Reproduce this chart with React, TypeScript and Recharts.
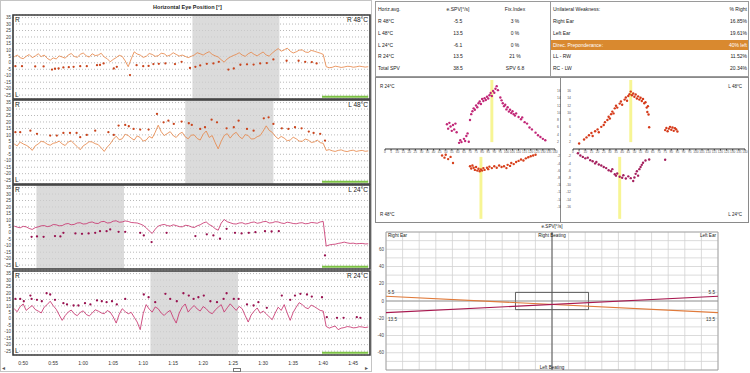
import {
  CartesianGrid,
  ComposedChart,
  Label,
  LabelList,
  Line,
  LineChart,
  ReferenceArea,
  ReferenceLine,
  Scatter,
  ScatterChart,
  XAxis,
  YAxis,
} from "recharts";

const FONT = "'Liberation Sans', Arial, sans-serif";

// ---------- eye position traces (seconds / degrees) ----------
const traceTimes = [
  48.5, 49, 49.5, 50, 50.5, 51, 51.5, 52, 52.5, 53, 53.5, 54, 54.5, 55, 55.5, 56, 56.5, 57, 57.5, 58,
  58.5, 59, 59.5, 60, 60.5, 61, 61.5, 62, 62.5, 63, 63.5, 64, 64.5, 65, 65.5, 66, 66.5, 67, 67.5, 68,
  68.5, 69, 69.5, 70, 70.5, 71, 71.5, 72, 72.5, 73, 73.5, 74, 74.5, 75, 75.5, 76, 76.5, 77, 77.5, 78,
  78.5, 79, 79.5, 80, 80.5, 81, 81.5, 82, 82.5, 83, 83.5, 84, 84.5, 85, 85.5, 86, 86.5, 87, 87.5, 88,
  88.5, 89, 89.5, 90, 90.5, 91, 91.5, 92, 92.5, 93, 93.5, 94, 94.5, 95, 95.5, 96, 96.5, 97, 97.5, 98,
  98.5, 99, 99.5, 100, 100.5, 101, 101.5, 102, 102.5, 103, 103.5, 104, 104.5, 105, 105.5, 106, 106.5,
  107, 107.5,
];
const timeTicks = [50, 55, 60, 65, 70, 75, 80, 85, 90, 95, 100, 105];
const eyeTicks = [-25, -20, -15, -10, -5, 0, 5, 10, 15, 20, 25, 30, 35];

const r48Trace = [
  4.6, 6, 4, 3.2, 5, 6.4, 4, 5.2, 7, 4.8, 6, 3.5, 2, 3.8, 3, 5.3, 4.5, 3.6, 6, 7.2,
  5, 4.2, 6.5, 7.6, 5.5, 4.4, 7, 5.6, 6, 7.4, 4.5, 3.2, 0.8, 2.6, 4, 5.8, 5, 1.5, -3, 3,
  8.5, 6.8, 6, 4.2, 5, 7.2, 6.5, 5, 5.5, 7.4, 7, 5.2, 6, 7.8, 6.5, 5.2, 6, 5, 4, 5,
  6, 7.8, 7, 6, 7.5, 8.6, 6.5, 5.4, 4.5, 2.4, 0.5, 3, 4.5, 5.6, 6.5, 7.8, 6, 5, 7, 8.2,
  6.5, 5.4, 7, 8.4, 6, 5.2, 7.5, 9.4, 11, 9, 10, 11.4, 9, 7.6, 8.5, 9.8, 10, 8.4, 8, 9.6,
  9, 8.2, 7.5, 6.5, -3, -3.8, -3.5, -2.6, -3, -3.6, -3.2, -2.7, -2.8, -3.4, -3.1, -2.6, -2.9,
  -3.3, -3,
];
const l48Trace = [
  3, 1.5, 4.5, 3, 2, 0.5, -2, 1.5, 3, 5, 4.5, 2.8, 2, 3.5, 4, 5.2, 3, 1.8, 4.5, 5.5,
  3, 1, -1.5, 1.5, 3, 4.8, 4.5, 3.2, 2.5, 0, -2.8, 0.5, 3, 6.5, 9, 6.2, 7, 10.5, 9.5, 7.5,
  6, 9.2, 8, 5.2, 6, 8.8, 7.5, 12, 17.5, 12.5, 9.5, 11, 12.5, 9.5, 8, 10.8, 12, 8.5, 7, 9.8,
  10, 7.2, 6, 10.5, 13, 8, 9.5, 4, -0.8, 5, 9.5, 11, 7.5, 10.5, 12, 8.8, 7, 10.2, 9.5, 6.8,
  7, 8.6, 9.5, 13, 17, 13.5, 12, 9, 7, 8.8, 7.5, 5.5, 6, 8.2, 7, 5.2, 5, 6.8, 6, 4.2,
  4.5, 6, 4, 3.5, -2, -1.4, -2.3, -2.8, -2, -1.6, -2.5, -2.9, -2.2, -1.8, -2.8, -2.3, -2,
  -2.7, -2.4,
];
const l24Trace = [
  5.2, 4.4, 3.9, 5, 4.6, 3.4, 2.6, 4, 4.6, 5.4, 5.6, 4.8, 5.2, 6.4, 6.2, 5.4, 5.6, 6.8, 7.2, 6.2,
  6.5, 7.6, 7.8, 6.8, 7, 8, 8.4, 7.4, 7.2, 8.6, 8.8, 7.6, 7.8, 9, 9.3, 8.2, 8.4, 9.2, 8.8, 8,
  7.8, 7.6, 6.8, 5.8, 3.9, 1.5, -0.5, 2.8, 5.2, 6, 6.5, 5.6, 5.2, 6.2, 5.6, 4.8, 4.6, 5.8, 5.6, 4.6,
  4.1, 5.4, 6.2, 7.6, 8.4, 6.4, 5.2, 3.2, 2, 7.5, 10.3, 8.6, 7.8, 7, 6.8, 7.6, 7.8, 6.8, 7.2, 8,
  8.4, 7.4, 7.8, 8.6, 8.8, 7.6, 7.8, 8.6, 8.4, 7.6, 7.2, 8.2, 7.8, 7.2, 7, 7.6, 7.8, 7, 7.2, 8,
  7.8, 7.4, 8.4, 8.8, -10.3, -9.4, -9, -8.8, -8.2, -7.8, -7.2, -7.8, -8.2, -8, -8.5, -8.3, -8.2,
  -8.6, -8.5,
];
const r24Trace = [
  7.8, 5.5, 9.5, 11.5, 6.5, 8.5, 10.3, 7.2, 6, 4.5, 9, 11, 13.6, 10.2, 7.4, 3, -1.2, 2.5, 5.2, 6.8,
  3.9, 2.4, 4.9, 6.2, 3.4, 2.2, 4.4, 7, 6, 4.6, 3.9, 6.4, 5.2, 1.5, -3.3, 3.5, 7.8, 5.6, 3.9, 5,
  1.2, -2.5, -8.4, 4, 11, 7.5, 5.2, 9.2, 7.8, 4.5, 2.6, 5, 6.5, 1, -3.3, 4.5, 9, 11.5, 5.2, 8.2,
  10.3, 7.6, 6, 9.5, 7.8, 5.2, 3.9, 6.8, 9, 11, 5.2, 8.5, 11.6, 9, 6.5, 9.6, 7.8, 2.5, -2.5, 3,
  6, 8.4, 4.4, 6, 3.9, 1.5, -0.7, 4.5, 9, 6.5, 11, 4.5, -1.2, 5, 9, 12.5, 11, 8.8, 7.8, 10.6,
  9.5, 8, 6.5, 6, -5.9, -7.2, -6.3, -5.6, -8.4, -7.2, -6.8, -6, -6.3, -7, -6.8, -6.1, -6.3,
  -6.8, -6.3,
];

// slow phase markers [time, degrees]
const r48Beats = [
  [48.7, -2.6], [49.8, -2.6], [52, -2.8], [53.4, -2.8], [54.8, -5.2], [55.3, -4.6], [55.9, -4.4],
  [56.7, -3.6], [57.6, -3.4], [58.4, -3.1], [59.5, -2.6], [60.6, -2.6], [62.3, -1.8], [62.8, -1.6],
  [63.4, -0.5], [65.1, -4.4], [65.6, -3.1], [67.8, -9.5], [68.9, -1.8], [70, -2.6], [70.9, -2.4],
  [71.7, -1], [72.6, -0.8], [73.7, -0.5], [75.3, -1], [76.4, 0.8], [77.8, -4], [78.7, -3.1],
  [79.5, -2], [80.6, -0.8], [81.7, -0.5], [82.6, 0.8], [84.2, -5.2], [85.1, -4.4], [86.2, -1.5],
  [87.3, -1.2], [88.4, -1.4], [89.5, -0.5], [90.6, -0.2], [91.7, 2.6], [93.9, 1.6], [95.9, 1.6],
  [97, 0.8], [98.1, 0.6], [98.9, -0.5],
];
const l48Beats = [
  [48.7, 12.1], [49.5, 12.1], [51.2, 13.3], [52.3, 10.8], [54.5, 9.5], [55.6, 9.5], [56.7, 11.5],
  [57.8, 11.5], [58.9, 11.5], [59.5, 8.2], [60.6, 10], [62, 13.3], [64.2, 12.1], [65.1, 10],
  [65.9, 17.2], [67, 17.7], [67.6, 16.7], [68.4, 14.6], [69.5, 14.1], [70.9, 14.1], [72.3, 26.2],
  [73.4, 19.7], [74.2, 21], [75.1, 18.5], [76.4, 20.3], [77.6, 19], [78.1, 17.7], [79.5, 14.6],
  [80.3, 15.9], [81.4, 21.8], [82.3, 19.7], [83.9, 15.1], [85.1, 15.9], [85.9, 21], [87.3, 14.6],
  [88.4, 13.3], [90.1, 22.8], [90.9, 23.6], [91.7, 18.5], [93.1, 15.1], [94.2, 14.6], [95.3, 15.9],
  [96.4, 15.1], [97.6, 12.6], [98.4, 11.5], [99.5, 10.8], [100.3, 5.6],
];
const l24Beats = [
  [51.4, -3.1], [52.3, -2.8], [53.4, -3.1], [55.3, -2.5], [56.2, -2.8], [56.7, 0], [58.7, -0.5],
  [59.8, -0.8], [60.9, -0.5], [62, 0], [62.8, 1.3], [63.9, 1.3], [64.5, 2.6], [65.9, 0.8], [67, 0.8],
  [69.5, 0], [70.1, -2], [71.4, -7.2], [73.9, 0], [78.7, -2.5], [80.6, -1.2], [81.7, -2], [82.8, -4.6],
  [83.9, 3.1], [85.3, 0], [86.4, -0.5], [87.6, 0], [88.7, 0.5], [90.3, 1.3], [91.4, 1], [92.6, 1.3],
  [100.3, -17.5],
];
const r24Beats = [
  [48.7, 15.4], [49.5, 15.4], [50.1, 13.6], [51.2, 18], [51.4, 15.4], [52.3, 14.7], [53.1, 13.6],
  [53.9, 19.8], [54.5, 18.8], [55.3, 14.7], [56.7, 12.1], [57.3, 11.1], [58.4, 10.3], [59.2, 10.3],
  [60.3, 12.1], [61.2, 11.1], [62.3, 14.2], [63.1, 13.6], [63.9, 12.9], [64.8, 13.6], [65.6, 11.1],
  [67, 15.4], [70.1, 18.8], [70.9, 16.7], [72, 12.9], [73.7, 19.3], [74.5, 15.4], [75.6, 13.6],
  [76.7, 19.8], [77.6, 18], [78.4, 15.4], [79.2, 16.7], [80.1, 18], [81.2, 13.6], [82.3, 12.9],
  [83.4, 15.4], [83.9, 19.8], [85.1, 15.4], [85.9, 15.4], [87.3, 11.1], [88.4, 10.3], [89.2, 12.9],
  [90.6, 8.5], [93.1, 18], [94.5, 14.7], [95.3, 18], [96.2, 19.3], [97.3, 18.8], [98.1, 17.2],
  [99.8, 16.7], [100.6, 1.3], [102.3, 0.8], [103.4, 0.8], [105.6, 1.3], [106.2, 0.8],
];

// irrigation windows and settle marker (seconds)
const r48Stim = [78.2, 92.7];
const l48Stim = [77, 91.7];
const l24Stim = [52.2, 66.8];
const r24Stim = [71.2, 85.8];
const settleWindow = [99.8, 107.5];

// ---------- SPV butterfly (sample / deg per s) ----------
const phaseTicks = [
  0, 5, 10, 15, 20, 25, 30, 35, 40, 45, 50, 55, 60, 65, 70, 75, 80, 85, 90, 95, 100, 105, 110,
  115, 120, 125, 130, 135, 140,
];
const upperTicks = [2, 4, 6, 8, 10, 12, 14, 16];
const lowerTicks = [-16, -14, -12, -10, -8, -6, -4, -2];

const r24Spv = [
  [51, 6.8], [52, 5.6], [53, 7.2], [54, 6.2], [55, 5], [56, 6.6], [57, 5.4], [58, 7], [59, 4.6],
  [61, 1.7], [62, 2.4], [63, 1.9], [65, 2.8], [66, 2.2], [67, 3.6], [68, 4.3], [69, 2],
  [70, 8], [71, 9.6], [72, 10.4], [73, 11.2], [74, 10.8], [75, 12], [76, 11.5], [77, 12.6],
  [78, 13.1], [79, 12.4], [80, 13.8], [81, 13.2], [82, 14], [83, 13.5], [84, 14.4], [85, 13.9],
  [86, 14.8], [87, 15.4], [88, 14.6], [89, 16], [90, 15.5], [91, 16.6], [92, 17.3], [93, 16.2],
  [95, 14.2], [96, 13.4], [97, 12.6], [98, 11.8], [99, 12.2], [100, 10.9], [101, 11.5], [102, 10.3],
  [103, 10.8], [104, 9.9], [105, 10.4], [106, 9.6], [107, 9.2], [108, 9.8], [110, 8.8], [112, 8.2],
  [113, 8.7], [115, 7.4], [117, 7], [119, 5.9], [121, 5.4], [124, 4.5], [126, 3.8], [128, 3.3],
  [130, 2.8], [132, 2.4],
];
const r48Spv = [
  [47, -1.8], [49, -2.4], [50, -1.6], [52, -2.8], [54, -2.2], [56, -3.9],
  [70, -4.8], [71, -5.4], [72, -4.6], [73, -5.2], [74, -5.8], [75, -5], [76, -6], [77, -5.5],
  [78, -6.2], [79, -5.7], [80, -6], [81, -5.3], [82, -5.8], [84, -5.2], [85, -5.6], [86, -4.9],
  [88, -5.3], [90, -4.8], [92, -5.2], [94, -4.6], [96, -5], [98, -4.8], [100, -5.3], [101, -4.4],
  [103, -4.7], [104, -3.9], [106, -4.2], [108, -3.6], [110, -3.3], [112, -2.9], [114, -3.2],
  [116, -2.6], [118, -2.3], [120, -2], [122, -1.8], [124, -1.6],
];
const l48Spv = [
  [5, 1.5], [9, 2.6], [11, 3.2], [13, 3.8], [15, 4.4], [16, 3.6], [18, 4.9], [20, 5.4], [21, 4.6],
  [23, 6.1], [25, 6.6], [26, 7.4], [28, 8], [29, 8.9], [30, 8.4], [31, 9.6], [32, 10.3], [33, 9.8],
  [34, 11.2], [35, 11.9], [36, 11.4], [38, 12.5], [39, 13.1], [40, 12.2], [42, 13.6], [43, 14.2],
  [44, 13.3], [45, 14.6], [46, 15.1], [47, 15.8], [48, 14.8], [49, 15.3], [50, 14.4], [51, 15],
  [52, 13.9], [53, 14.5], [54, 13.6], [55, 14.1], [56, 13.2], [57, 13.8], [58, 12.6], [59, 12.9],
  [60, 11.4], [60.5, 10.2], [61, 11.8], [61.5, 9.5], [62, 6],
  [75, 5.2], [76, 5.8], [77, 4.9], [78, 5.6], [79, 6.1], [80, 5.3], [81, 5.9], [82, 5], [83, 5.7],
  [84, 5.4], [85, 4.8],
];
const l24Spv = [
  [4, -1.2], [6, -1.8], [8, -2.2], [10, -2.6], [12, -2.4], [14, -3.1], [16, -3.4], [18, -4],
  [19, -3.6], [21, -4.3], [23, -4.6], [25, -5], [27, -5.3], [29, -5.9], [31, -6.2], [32, -5.6],
  [34, -7], [35, -7.4], [36, -6.8], [38, -7.7], [40, -8], [41, -7.3], [43, -8.2], [45, -7.6],
  [47, -8.1], [49, -8.9], [50, -7.9], [51, -6.9], [52, -6.2], [53, -7.4], [54, -5.6], [55, -5],
  [56, -4.4], [57, -3.8], [59, -3.2], [62, -2.9], [75, -3],
];
// culmination markers
const r24Peak = 88;
const r48Peak = 79;
const l48Peak = 47;
const l24Peak = 38;

// ---------- e.SPV butterfly summary ----------
const spvEnds = [-100, 100];
const rightEarSpv = [5.5, -13.5];
const leftEarSpv = [-13.5, 5.5];
const spvGridX = [-100, -90, -80, -70, -60, -50, -40, -30, -20, -10, 0, 10, 20, 30, 40, 50, 60, 70, 80, 90, 100];
const spvGridY = [-80, -70, -60, -50, -40, -30, -20, -10, 0, 10, 20, 30, 40, 50, 60, 70, 80];
const normalBox = [-22, 22, -10, 10];

// ---------- result tables ----------
const avgRows = ["R 48°C", "L 48°C", "L 24°C", "R 24°C", "Total SPV"];
const avgSpv = ["-5.5", "13.5", "-6.1", "13.5", "38.5"];
const avgFix = ["3 %", "0 %", "0 %", "21 %", "SPV 6.8"];
const weakRows = ["Right Ear", "Left Ear", "Direc. Preponderance:", "LL - RW", "RC - LW"];
const weakValues = ["16.85%", "19.61%", "40% left", "11.52%", "20.34%"];

const ORANGE = "#e6884c";
const ORANGE_DOT = "#c9441c";
const MAGENTA = "#c8356f";
const MAGENTA_DOT = "#98114f";

const fmtTime = (t: number) => `${Math.floor(t / 60)}:${String(t % 60).padStart(2, "0")}`;

function EyePanel({ top, label, trace, beats, stim, lineColor, dotColor, last }: any) {
  const line = traceTimes.map((t, i) => ({ t, v: trace[i] }));
  const dots = beats.map(([t, v]: number[]) => ({ t, v }));
  return (
    <div style={{ position: "absolute", left: 0, top: top - 1 }}>
      <ComposedChart width={375} height={last ? 100 : 86} margin={{ top: 1, right: 5, bottom: 1, left: 0 }}>
        <ReferenceArea x1={stim[0]} x2={stim[1]} y1={-28} y2={37} fill="#cfcfcf" fillOpacity={0.75} stroke="none" />
        <CartesianGrid vertical={false} stroke="#8a8a8a" strokeDasharray="1 2" strokeWidth={0.6} />
        <XAxis
          type="number"
          dataKey="t"
          domain={[48.3, 107.8]}
          allowDataOverflow
          ticks={timeTicks}
          interval={0}
          tickFormatter={fmtTime}
          hide={!last}
          height={14}
          tickLine={false}
          axisLine={false}
          tickSize={4}
          tickMargin={2}
          tick={{ fontSize: 5, fill: "#333", fontFamily: FONT }}
        />
        <YAxis
          type="number"
          dataKey="v"
          domain={[-28, 37]}
          allowDataOverflow
          ticks={eyeTicks}
          interval={0}
          width={13}
          tickLine={false}
          axisLine={false}
          tickSize={1}
          tickMargin={1}
          tick={{ fontSize: 4.6, fill: "#444", fontFamily: FONT }}
        />
        <ReferenceLine
          segment={[{ x: settleWindow[0], y: -26.3 }, { x: settleWindow[1], y: -26.3 }]}
          stroke="#7cc244"
          strokeWidth={2}
        />
        <Line data={line} dataKey="v" type="linear" stroke={lineColor} strokeWidth={0.85} dot={false} isAnimationActive={false} />
        <Scatter
          data={dots}
          dataKey="v"
          fill={dotColor}
          isAnimationActive={false}
          shape={(p: any) => <circle cx={p.cx} cy={p.cy} r={1.15} fill={dotColor} />}
        />
        <ReferenceArea x1={48.3} x2={107.8} y1={-28} y2={37} fill="none" stroke="#3a3a3a" strokeWidth={1.6}>
          <Label value="R" position="insideTopLeft" offset={2} fontSize={6.5} fill="#222" fontFamily={FONT} />
          <Label value="L" position="insideBottomLeft" offset={2} fontSize={6.5} fill="#222" fontFamily={FONT} />
          <Label value={label} position="insideTopRight" offset={2} fontSize={6.5} fill="#222" fontFamily={FONT} />
        </ReferenceArea>
      </ComposedChart>
    </div>
  );
}

function SpvHalf({ left, width, side, points, color, peak, upper }: any) {
  const data = points.map(([x, y]: number[]) => ({ x, y }));
  const isLeft = side === "left";
  const margin = upper
    ? { top: 2, bottom: 0, left: isLeft ? 10 : 0, right: isLeft ? 0 : 4 }
    : { top: 0, bottom: 1, left: isLeft ? 10 : 0, right: isLeft ? 0 : 4 };
  const domain = upper ? [0, 19] : [-20, 0];
  return (
    <div style={{ position: "absolute", left, top: upper ? 78 : 149 }}>
      <ScatterChart width={width} height={upper ? 78 : 73} margin={margin}>
        <XAxis
          type="number"
          dataKey="x"
          domain={[0, 140]}
          allowDataOverflow
          ticks={phaseTicks}
          interval={0}
          hide={!upper}
          height={7}
          tickSize={1.5}
          tickMargin={0.5}
          stroke="#333"
          tick={{ fontSize: 3.2, fill: "#555", fontFamily: FONT }}
        />
        <YAxis
          type="number"
          dataKey="y"
          domain={domain}
          allowDataOverflow
          ticks={upper ? upperTicks : lowerTicks}
          interval={0}
          orientation={isLeft ? "right" : "left"}
          width={isLeft ? 6 : 12}
          tickLine={false}
          axisLine={false}
          tickSize={1}
          tickMargin={1}
          tick={{ fontSize: 3.4, fill: "#555", fontFamily: FONT }}
        />
        <ReferenceArea
          x1={peak - 1.2}
          x2={peak + 1.2}
          y1={upper ? 1.9 : -2.2}
          y2={upper ? 19 : -19.4}
          fill="#f0ec2a"
          stroke="none"
        />
        <Scatter
          data={data}
          fill={color}
          isAnimationActive={false}
          shape={(p: any) => <circle cx={p.cx} cy={p.cy} r={1.2} fill={color} />}
        />
      </ScatterChart>
    </div>
  );
}

const renderEndLabel = (props: any) => {
  const { x, y, value, index } = props;
  const first = index === 0;
  return (
    <text
      x={first ? x + 2 : x - 3}
      y={value > 0 ? y - 2 : y + 8}
      textAnchor={first ? "start" : "end"}
      fontSize={4.6}
      fill="#333"
      fontFamily={FONT}
    >
      {Math.abs(value)}
    </text>
  );
};

const txt = (extra: any) => ({ position: "absolute" as const, fontSize: 5, color: "#222", lineHeight: "6px", ...extra });

export default function App() {
  const rightLine = spvEnds.map((x, i) => ({ x, y: rightEarSpv[i] }));
  const leftLine = spvEnds.map((x, i) => ({ x, y: leftEarSpv[i] }));
  const spvTick = (v: number) => (v % 20 === 0 && Math.abs(v) <= 60 ? String(v) : "");
  const rows = [0, 1, 2, 3, 4];

  return (
    <div
      style={{
        position: "absolute",
        left: 0,
        top: 0,
        width: 750,
        height: 373,
        background: "#fff",
        fontFamily: FONT,
        overflow: "hidden",
      }}
    >
      {/* left: horizontal eye position */}
      <div style={{ position: "absolute", left: 0, top: 0, width: 372, height: 372, border: "1px solid #c4c4c4", boxSizing: "border-box" }} />
      <div style={txt({ left: 0, top: 4, width: 375, textAlign: "center", fontWeight: "bold", fontSize: 5.5 })}>
        Horizontal Eye Position [°]
      </div>
      <EyePanel top={15} label="R 48°C" trace={r48Trace} beats={r48Beats} stim={r48Stim} lineColor={ORANGE} dotColor={ORANGE_DOT} />
      <EyePanel top={100} label="L 48°C" trace={l48Trace} beats={l48Beats} stim={l48Stim} lineColor={ORANGE} dotColor={ORANGE_DOT} />
      <EyePanel top={185} label="L 24°C" trace={l24Trace} beats={l24Beats} stim={l24Stim} lineColor={MAGENTA} dotColor={MAGENTA_DOT} />
      <EyePanel top={271} label="R 24°C" trace={r24Trace} beats={r24Beats} stim={r24Stim} lineColor={MAGENTA} dotColor={MAGENTA_DOT} last />
      <div style={txt({ left: 2, top: 365, fontSize: 6, color: "#555" })}>◂</div>
      <div style={txt({ left: 365, top: 365, fontSize: 6, color: "#555" })}>▸</div>
      <div style={{ position: "absolute", left: 233, top: 368, width: 8, height: 4, border: "1px solid #777", boxSizing: "border-box" }} />

      {/* top right: result tables */}
      <div style={{ position: "absolute", left: 375, top: 1, width: 176, height: 76, border: "1px solid #9a9a9a", boxSizing: "border-box" }} />
      <div style={{ position: "absolute", left: 550, top: 1, width: 199, height: 76, border: "1px solid #9a9a9a", boxSizing: "border-box" }} />
      <div style={{ position: "absolute", left: 551, top: 40, width: 197, height: 10, background: "#d9892f" }} />
      <div style={txt({ left: 378, top: 6 })}>Horiz.avg.</div>
      <div style={txt({ left: 428, top: 6, width: 60, textAlign: "center" })}>e.SPV[°/s]</div>
      <div style={txt({ left: 490, top: 6, width: 50, textAlign: "center" })}>Fix.Index</div>
      <div style={txt({ left: 553, top: 6 })}>Unilateral Weakness:</div>
      <div style={txt({ left: 650, top: 6, width: 97, textAlign: "right" })}>% Right</div>
      {rows.map((i) => (
        <div key={i}>
          <div style={txt({ left: 378, top: 18 + i * 11.8 })}>{avgRows[i]}</div>
          <div style={txt({ left: 428, top: 18 + i * 11.8, width: 60, textAlign: "center" })}>{avgSpv[i]}</div>
          <div style={txt({ left: 490, top: 18 + i * 11.8, width: 50, textAlign: "center" })}>{avgFix[i]}</div>
          <div style={txt({ left: 553, top: 18 + i * 11.8, color: i === 2 ? "#fff" : "#222" })}>{weakRows[i]}</div>
          <div style={txt({ left: 650, top: 18 + i * 11.8, width: 97, textAlign: "right", color: i === 2 ? "#fff" : "#222" })}>
            {weakValues[i]}
          </div>
        </div>
      ))}

      {/* middle right: SPV per irrigation */}
      <div style={{ position: "absolute", left: 375, top: 77, width: 374, height: 146, border: "1px solid #8a8a8a", boxSizing: "border-box" }} />
      <div style={{ position: "absolute", left: 560, top: 77, width: 1, height: 146, background: "#8a8a8a" }} />
      <SpvHalf left={375} width={186} side="left" points={r24Spv} color="#c12777" peak={r24Peak} upper />
      <SpvHalf left={375} width={186} side="left" points={r48Spv} color="#d7401c" peak={r48Peak} />
      <SpvHalf left={561} width={188} side="right" points={l48Spv} color="#d53a1a" peak={l48Peak} upper />
      <SpvHalf left={561} width={188} side="right" points={l24Spv} color="#a5205e" peak={l24Peak} />
      <div style={txt({ left: 380, top: 84, fontSize: 4.5 })}>R 24°C</div>
      <div style={txt({ left: 380, top: 212, fontSize: 4.5 })}>R 48°C</div>
      <div style={txt({ left: 700, top: 84, width: 42, textAlign: "right", fontSize: 4.5 })}>L 48°C</div>
      <div style={txt({ left: 700, top: 212, width: 42, textAlign: "right", fontSize: 4.5 })}>L 24°C</div>

      {/* bottom right: e.SPV summary */}
      <div style={txt({ left: 502, top: 224, width: 100, textAlign: "center", fontSize: 4.6 })}>e.SPV[°/s]</div>
      <div style={{ position: "absolute", left: 375, top: 225 }}>
        <LineChart width={375} height={148} margin={{ top: 7, right: 0, bottom: 3, left: 0 }}>
          <CartesianGrid yAxisId="l" stroke="#d2d2d2" strokeWidth={0.8} />
          <XAxis type="number" dataKey="x" domain={[-100, 100]} ticks={spvGridX} interval={0} hide />
          <YAxis
            yAxisId="l"
            type="number"
            dataKey="y"
            domain={[-80, 80]}
            ticks={spvGridY}
            interval={0}
            tickFormatter={spvTick}
            width={11}
            tickLine={false}
            axisLine={false}
            tickSize={1}
            tickMargin={1}
            tick={{ fontSize: 4.5, fill: "#444", fontFamily: FONT }}
          />
          <YAxis
            yAxisId="r"
            orientation="right"
            type="number"
            domain={[-80, 80]}
            ticks={spvGridY}
            interval={0}
            tickFormatter={spvTick}
            width={32}
            tickLine={false}
            axisLine={false}
            tickSize={1}
            tickMargin={2}
            tick={{ fontSize: 4.5, fill: "#444", fontFamily: FONT }}
          />
          <ReferenceLine yAxisId="l" y={0} stroke="#8a8a8a" strokeWidth={0.8} />
          <ReferenceLine yAxisId="l" x={0} stroke="#555" strokeWidth={1} />
          <ReferenceArea
            yAxisId="l"
            x1={normalBox[0]}
            x2={normalBox[1]}
            y1={normalBox[2]}
            y2={normalBox[3]}
            fill="none"
            stroke="#3a3a3a"
            strokeWidth={0.8}
          />
          <ReferenceArea yAxisId="l" x1={-100} x2={100} y1={-80} y2={80} fill="none" stroke="#9a9a9a" strokeWidth={0.8}>
            <Label value="Right Ear" position="insideTopLeft" offset={2} fontSize={4.6} fill="#222" fontFamily={FONT} />
            <Label value="Right Beating" position="insideTop" offset={2} fontSize={4.6} fill="#222" fontFamily={FONT} />
            <Label value="Left Ear" position="insideTopRight" offset={2} fontSize={4.6} fill="#222" fontFamily={FONT} />
            <Label value="Left Beating" position="insideBottom" offset={1} fontSize={4.6} fill="#222" fontFamily={FONT} />
          </ReferenceArea>
          <Line yAxisId="l" data={rightLine} dataKey="y" stroke="#e07a3a" strokeWidth={1.1} dot={false} isAnimationActive={false}>
            <LabelList dataKey="y" content={renderEndLabel} />
          </Line>
          <Line yAxisId="l" data={leftLine} dataKey="y" stroke="#a8184f" strokeWidth={1.1} dot={false} isAnimationActive={false}>
            <LabelList dataKey="y" content={renderEndLabel} />
          </Line>
        </LineChart>
      </div>
    </div>
  );
}
